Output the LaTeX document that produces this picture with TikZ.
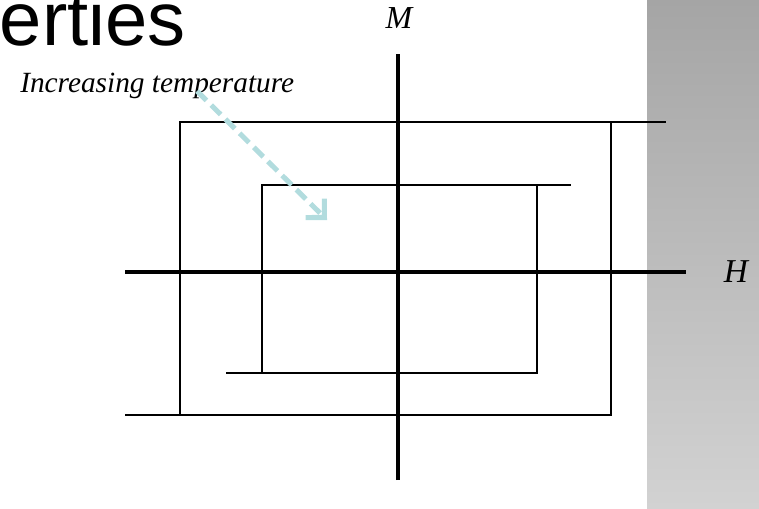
\documentclass[tikz,border=0pt]{standalone}
\usepackage{fontspec}
\setmainfont{Liberation Serif}
\newfontfamily\titlefont{Liberation Sans}
\usetikzlibrary{arrows.meta,positioning}
\definecolor{tempcol}{RGB}{178,220,222}
\definecolor{panelA}{RGB}{165,165,165}
\definecolor{panelB}{RGB}{210,210,210}
\tikzset{
  axisline/.style={line width=3.4pt},
  loopline/.style={line width=1.2pt},
  lbl/.style={font=\itshape\fontsize{22}{25}\selectfont, inner sep=0pt},
}

\begin{document}
\begin{tikzpicture}[x=0.75pt,y=-0.75pt]
\useasboundingbox (0,0) rectangle (759,508);
%\draw[help lines] (0,0) grid (759,508);
\shade[top color=panelA,bottom color=panelB] (647,0) rectangle (759,508);

\node[anchor=base east, font=\titlefont\fontsize{57}{57}\selectfont, inner sep=0pt] (title) at (186,45) {erties};

% axes
\coordinate (mtop) at (398,54);
\coordinate (mbot) at (398,480);
\coordinate (hleft) at (125,272);
\coordinate (hright) at (686,272);
\draw[axisline] (mbot) -- (mtop);
\draw[axisline] (hleft) -- (hright);
\draw(399,18) node[lbl,font=\itshape\fontsize{24}{27}\selectfont] (M) {M};
\draw(736,272) node[lbl,font=\itshape\fontsize{25}{28}\selectfont] (H) {H};

% outer loop
\coordinate (o1) at (180,122);
\coordinate (o2) at (611,415);
\draw[loopline] (o1) rectangle (o2);
\draw[loopline] (o1 -| o2) -- (666,122);
\draw[loopline] (125,415) -- (o1 |- o2);

% inner loop
\coordinate (i1) at (262,185);
\coordinate (i2) at (537,373);
\draw[loopline] (i1) rectangle (i2);
\draw[loopline] (i1 -| i2) -- (571,185);
\draw[loopline] (226,373) -- (i1 |- i2);

% temperature arrow
\draw(20,92) node[lbl,anchor=base west] (temp) {Increasing temperature};
\coordinate (tstart) at (197,91);
\coordinate (tend) at (327,220);
\draw[tempcol, line width=3.8pt, dash pattern=on 10pt off 5pt,
  -{Straight Barb[length=10pt,width=20pt,line width=3.8pt]}] (tstart) -- (tend);
\end{tikzpicture}
\end{document}
